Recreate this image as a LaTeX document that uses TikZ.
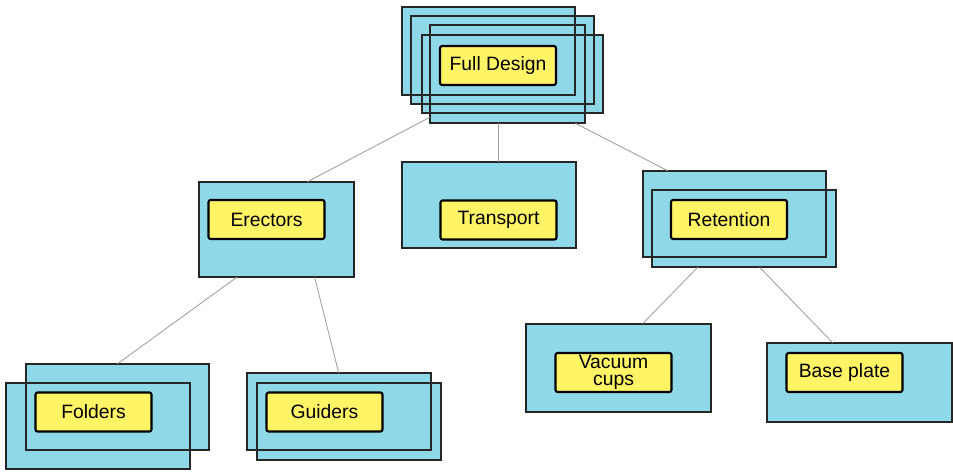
\documentclass[tikz,border=0pt]{standalone}
\usepackage{fontspec}
\setmainfont{Liberation Sans}
\usetikzlibrary{positioning,calc,fit}
\definecolor{cardblue}{RGB}{143,216,232}
\definecolor{tagyellow}{RGB}{255,243,102}
\definecolor{linkgray}{RGB}{160,160,160}
\tikzset{
  card/.style={fill=cardblue, inner sep=0pt},
  cardline/.style={draw=black!85, line width=1pt},
  tag/.style={draw=black, fill=tagyellow, line width=1.2pt, rounded corners=1.2pt,
              minimum width=2.32cm, minimum height=0.78cm, inner sep=1pt,
              align=center, font=\fontsize{11}{10}\selectfont},
  link/.style={draw=linkgray, line width=0.5pt},
}

\begin{document}
\begin{tikzpicture}[x=0.02cm, y=-0.02cm]
    \useasboundingbox (0,0) rectangle (953,471);
    % cards (stacked ones get several layers)
    \node[card, fit={(402,7) (575,95)}] (fd1) {};
    \node[card, fit={(411,16) (594,104)}] (fd2) {};
    \node[card, fit={(430,25) (585,123)}] (fd3) {};
    \node[card, fit={(422,35) (603,113)}] (fd4) {};
    \node[card, fit={(199,182) (354,277)}] (er) {};
    \node[card, fit={(402,162) (576,248)}] (tr) {};
    \node[card, fit={(643,171) (826,257)}] (re1) {};
    \node[card, fit={(652,190) (836,267)}] (re2) {};
    \node[card, fit={(26,364) (209,450)}] (fo1) {};
    \node[card, fit={(6,383) (190,469)}] (fo2) {};
    \node[card, fit={(247,373) (431,450)}] (gu1) {};
    \node[card, fit={(257,383) (441,460)}] (gu2) {};
    \node[card, fit={(526,324) (711,412)}] (vc) {};
    \node[card, fit={(767,343) (952,422)}] (bp) {};
    \foreach \c in {fd1, fd2, fd3, fd4, er, tr, re1, re2, fo1, fo2, gu1, gu2, vc, bp}
      \draw[cardline] (\c.south west) rectangle (\c.north east);

    % labels
    \node[tag] (fdl) at (498,65.5) {Full Design};
    \node[tag] (erl) at (266.5,219.5) {Erectors};
    \node[tag] (trl) at (498.5,220) {Transport};
    \node[tag] (rel) at (729,219.5) {Retention};
    \node[tag] (fol) at (93.5,412) {Folders};
    \node[tag] (gul) at (324.5,412) {Guiders};
    \node[tag] (vcl) at (613.5,372.5) {Vacuum\\cups};
    \node[tag] (bpl) at (844.5,372.5) {Base plate};

    % tree links
    \draw[link] ($(fd3.south west)+(0,-6)$) -- ($(er.north west)+(109,0)$);
    \draw[link] (fdl |- fd3.south) -- (fdl |- tr.north);
    \draw[link] ($(fd3.south east)+(-10,0)$) -- ($(re1.north west)+(25,0)$);
    \draw[link] ($(er.south west)+(38,0)$) -- ($(fo1.north west)+(92,0)$);
    \draw[link] ($(er.south west)+(116,0)$) -- ($(gu1.north west)+(92,0)$);
    \draw[link] ($(re2.south west)+(46,0)$) -- ($(vc.north west)+(117,0)$);
    \draw[link] ($(re2.south west)+(108,0)$) -- ($(bp.north west)+(66,0)$);
\end{tikzpicture}
\end{document}
